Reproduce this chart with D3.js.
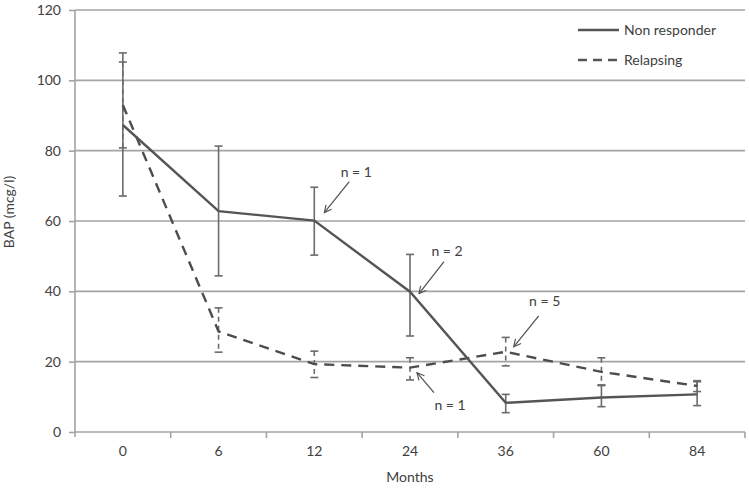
<!DOCTYPE html>
<html>
<head>
<meta charset="utf-8">
<script src="https://cdn.jsdelivr.net/npm/d3@7"></script>
<style>
  body { margin: 0; background: #fff; }
  svg text { font-family: Lato, "Open Sans", sans-serif; fill: #404040; }
</style>
</head>
<body>
<div class="container"></div>
<script>
// data
const months = ["0", "6", "12", "24", "36", "60", "84"];

const nonResponder = [87.3, 62.8, 60.1, 39.9, 8.3, 9.8, 10.7];
const nonResponderHigh = [107.8, 81.3, 69.6, 50.5, 10.7, 13.4, 14.3];
const nonResponderLow = [67.1, 44.4, 50.3, 27.3, 5.5, 7.2, 7.5];

const relapsing = [93, 28.6, 19.3, 18.3, 22.8, 17.1, 13.1];
const relapsingHigh = [105.2, 35.3, 23, 21.1, 26.9, 21.1, 14.6];
const relapsingLow = [80.8, 22.7, 15.5, 14.8, 18.8, 13.2, 11.5];

const yTicks = [0, 20, 40, 60, 80, 100, 120];

// annotations: series, month, label
const notes = [
    { series: "nr", month: "12", label: "n = 1" },
    { series: "nr", month: "24", label: "n = 2" },
    { series: "rel", month: "36", label: "n = 5" },
    { series: "rel", month: "24", label: "n = 1" }
];

const margin = { top: 10, right: 4, bottom: 56, left: 75 };
const width = 749 - margin.left - margin.right,
    height = 488 - margin.top - margin.bottom;

const svg = d3.select(".container")
    .append("svg")
    .attr("width", 749)
    .attr("height", 488);

const g = svg.append("g")
    .attr("transform", `translate(${margin.left}, ${margin.top})`);

// SCALES
const x = d3.scaleBand()
    .domain(months)
    .range([0, width]);

const y = d3.scaleLinear()
    .domain([0, 120])
    .range([height, 0]);

const cx = m => x(m) + x.bandwidth() / 2;

// GRID LINES
g.selectAll("line.grid")
    .data(yTicks.filter(t => t > 0))
    .enter()
    .append("line")
    .attr("class", "grid")
    .attr("x1", 0)
    .attr("x2", width)
    .attr("y1", d => y(d))
    .attr("y2", d => y(d))
    .attr("stroke", "#a3a3a3")
    .attr("stroke-width", 1.6);

// AXES
const yAxis = d3.axisLeft(y)
    .tickValues(yTicks)
    .tickSize(6)
    .tickPadding(8);

const yG = g.append("g").call(yAxis);
yG.select(".domain").attr("stroke", "#a3a3a3").attr("stroke-width", 1.6)
    .attr("d", `M0,${height + 5}V0`);
yG.selectAll(".tick line").attr("stroke", "#a3a3a3").attr("stroke-width", 1.6);
yG.selectAll("text").style("font-size", "14px");

const xAxis = d3.axisBottom(x)
    .tickSize(0)
    .tickPadding(14);

const xG = g.append("g")
    .attr("transform", `translate(0, ${height})`)
    .call(xAxis);
xG.select(".domain").attr("stroke", "#a3a3a3").attr("stroke-width", 1.6)
    .attr("d", `M0,0H${width}`);
xG.selectAll("text").style("font-size", "14px");

// tick marks between categories
xG.selectAll("line.sep")
    .data(months)
    .enter()
    .append("line")
    .attr("class", "sep")
    .attr("x1", d => x(d) + x.bandwidth())
    .attr("x2", d => x(d) + x.bandwidth())
    .attr("y1", 0)
    .attr("y2", 6)
    .attr("stroke", "#a3a3a3")
    .attr("stroke-width", 1.6);

// AXIS TITLES
svg.append("text")
    .attr("transform", `translate(14, 212) rotate(-90)`)
    .attr("text-anchor", "middle")
    .style("font-size", "14px")
    .text("BAP (mcg/l)");

svg.append("text")
    .attr("x", margin.left + width / 2)
    .attr("y", 482)
    .attr("text-anchor", "middle")
    .style("font-size", "14px")
    .text("Months");

// ERROR BARS
function errorBars(high, low, dash, cls) {
    const rows = months.map((m, i) => ({ m: m, hi: high[i], lo: low[i] }));
    const eg = g.append("g")
        .attr("stroke", "#6b6b6b")
        .attr("stroke-width", 1.6);
    eg.selectAll(`line.${cls}v`)
        .data(rows)
        .enter()
        .append("line")
        .attr("x1", d => cx(d.m))
        .attr("x2", d => cx(d.m))
        .attr("y1", d => y(d.hi))
        .attr("y2", d => y(d.lo))
        .attr("stroke-dasharray", dash);
    ["hi", "lo"].forEach(k => {
        eg.selectAll(`line.${cls}${k}`)
            .data(rows)
            .enter()
            .append("line")
            .attr("x1", d => cx(d.m) - 4)
            .attr("x2", d => cx(d.m) + 4)
            .attr("y1", d => y(d[k]))
            .attr("y2", d => y(d[k]));
    });
}

errorBars(nonResponderHigh, nonResponderLow, null, "nr");
errorBars(relapsingHigh, relapsingLow, "5,4", "rel");

// LINES
const line = d3.line()
    .x((d, i) => cx(months[i]))
    .y(d => y(d));

g.append("path")
    .datum(relapsing)
    .attr("d", line)
    .attr("fill", "none")
    .attr("stroke", "#4d4d4d")
    .attr("stroke-width", 2.4)
    .attr("stroke-dasharray", "10,7");

g.append("path")
    .datum(nonResponder)
    .attr("d", line)
    .attr("fill", "none")
    .attr("stroke", "#555")
    .attr("stroke-width", 2.4);

// ANNOTATIONS
svg.append("defs")
    .append("marker")
    .attr("id", "arrow")
    .attr("viewBox", "0 0 10 10")
    .attr("refX", 9)
    .attr("refY", 5)
    .attr("markerWidth", 9)
    .attr("markerHeight", 9)
    .attr("markerUnits", "userSpaceOnUse")
    .attr("orient", "auto")
    .append("path")
    .attr("d", "M1,1 L9,5 L1,9")
    .attr("fill", "none")
    .attr("stroke", "#555")
    .attr("stroke-width", 1.3);

// offsets of arrow tip, arrow tail and label from the data point
const noteOffsets = [
    { tip: [10, -8], tail: [35, -39], text: [42, -49] },
    { tip: [9, 2], tail: [34, -30], text: [37, -41] },
    { tip: [8, -5], tail: [33, -36], text: [39, -51] },
    { tip: [7, 5], tail: [24, 25], text: [40, 37] }
];

notes.forEach((n, i) => {
    const idx = months.indexOf(n.month);
    const v = n.series === "nr" ? nonResponder[idx] : relapsing[idx];
    const px = cx(n.month), py = y(v);
    const o = noteOffsets[i];
    g.append("line")
        .attr("x1", px + o.tail[0])
        .attr("y1", py + o.tail[1])
        .attr("x2", px + o.tip[0])
        .attr("y2", py + o.tip[1])
        .attr("stroke", "#555")
        .attr("stroke-width", 1.3)
        .attr("marker-end", "url(#arrow)");
    g.append("text")
        .attr("x", px + o.text[0])
        .attr("y", py + o.text[1])
        .attr("dy", "0.35em")
        .attr("text-anchor", "middle")
        .style("font-size", "14px")
        .text(n.label);
});

// LEGEND
const legendItems = [
    { name: "Non responder", dash: null },
    { name: "Relapsing", dash: "9,6" }
];

const legend = svg.append("g")
    .attr("transform", "translate(578, 30)");

legend.append("rect")
    .attr("x", -8)
    .attr("y", -12)
    .attr("width", 150)
    .attr("height", 42)
    .attr("fill", "#fff");

legendItems.forEach((d, i) => {
    legend.append("line")
        .attr("x1", 0)
        .attr("x2", 41)
        .attr("y1", i * 30)
        .attr("y2", i * 30)
        .attr("stroke", "#555")
        .attr("stroke-width", 2.4)
        .attr("stroke-dasharray", d.dash);
    legend.append("text")
        .attr("x", 46)
        .attr("y", i * 30)
        .attr("dy", "0.35em")
        .style("font-size", "14px")
        .text(d.name);
});
</script>
</body>
</html>
